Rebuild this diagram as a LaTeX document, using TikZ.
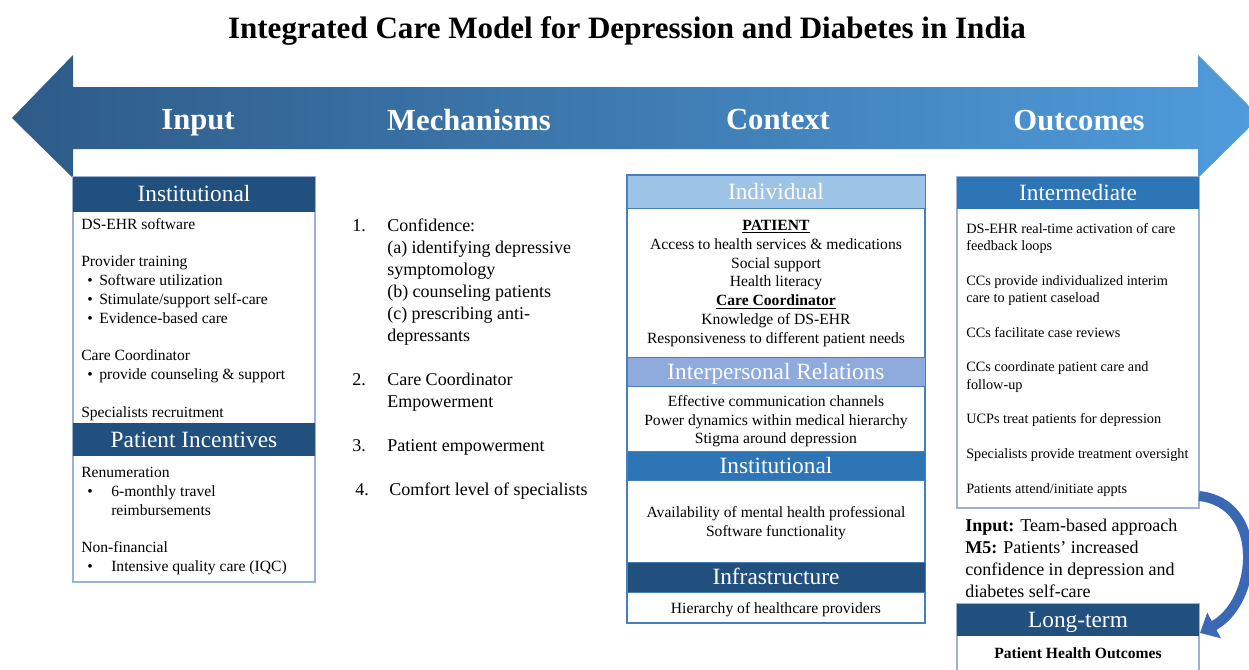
\documentclass[tikz,border=0pt]{standalone}
\usepackage{fontspec}
\setmainfont{Liberation Serif}
\usepackage{xcolor}
\usetikzlibrary{arrows.meta}

\definecolor{arrowL}{HTML}{2E5B88}
\definecolor{arrowR}{HTML}{4F9CDC}
\definecolor{darkhdr}{HTML}{21507E}
\definecolor{midhdr}{HTML}{2E75B6}
\definecolor{lighthdr}{HTML}{9DC3E6}
\definecolor{relhdr}{HTML}{8FAADC}
\definecolor{paleline}{HTML}{9AB3D5}
\definecolor{ctxline}{HTML}{4A7EBB}
\definecolor{loopblue}{HTML}{3A68B4}

\newcommand{\bul}[1]{\makebox[#1][l]{\hspace{4.5pt}\textbullet}}

\tikzset{
  hdrtxt/.style={text=white, font=\fontsize{17.5}{20}\selectfont, inner sep=0pt, text height=15pt, text depth=3.5pt},
  bandtxt/.style={text=white, font=\bfseries\fontsize{23}{26}\selectfont, inner sep=0pt, text height=19.8pt, text depth=4.6pt},
  bodytxt/.style={font=\fontsize{11.7}{14.1}\selectfont, align=left, anchor=north west, inner sep=0pt},
  mechtxt/.style={font=\fontsize{13.5}{16.5}\selectfont, align=left, anchor=north west, inner sep=0pt},
  ctxtxt/.style={font=\fontsize{11.7}{14.1}\selectfont, align=center, anchor=north, inner sep=0pt},
  outtxt/.style={font=\fontsize{10.7}{13}\selectfont, align=left, anchor=north west, inner sep=0pt},
  hdrbar/.style={draw=ctxline, line width=0.6pt}
}

\begin{document}
\begin{tikzpicture}[x=0.75pt, y=-0.75pt]
  \useasboundingbox (0,0) rectangle (1249,669);

  \node[font=\bfseries\fontsize{23.3}{28}\selectfont, text height=20pt, text depth=4.7pt, inner sep=0pt] (title) at (627,28) {Integrated Care Model for Depression and Diabetes in India};

  % double arrow band
  \shade[left color=arrowL, right color=arrowR] (12,118) -- (73,55) -- (73,87) -- (1198,87) -- (1198,55) -- (1260,117) -- (1198,178) -- (1198,149) -- (73,149) -- (73,178) -- cycle;
  \node[bandtxt] (input) at (198,119) {Input};
  \node[bandtxt] (mechs) at (469,120) {Mechanisms};
  \node[bandtxt] (context) at (778,119) {Context};
  \node[bandtxt] (outcomes) at (1079,120) {Outcomes};

  % Input column
  \draw[paleline, line width=1.1pt] (73,177) rectangle (315,582);
  \fill[darkhdr] (73,177) rectangle (315,212);
  \fill[darkhdr] (73,423) rectangle (315,456);
  \node[hdrtxt] (insthdr) at (194,194) {Institutional};
  \node[hdrtxt] (inchdr) at (194,440) {Patient Incentives};
  \node[bodytxt] (instbody) at (81,218) {DS-EHR software\\[14.1pt]
    Provider training\\
    \bul{13.5pt}Software utilization\\
    \bul{13.5pt}Stimulate/support self-care\\
    \bul{13.5pt}Evidence-based care\\[14.1pt]
    Care Coordinator\\
    \bul{13.5pt}provide counseling \& support\\[14.1pt]
    Specialists recruitment};
  \node[bodytxt] (incbody) at (81,467) {Renumeration\\
    \bul{22.5pt}6-monthly travel\\
    \hspace*{22.5pt}reimbursements\\[14.1pt]
    Non-financial\\
    \bul{22.5pt}Intensive quality care (IQC)};

  % Mechanisms column
  \node[mechtxt] (mechlist) at (352,219) {\makebox[26.25pt][l]{1.}Confidence:\\
    \hspace*{26.25pt}(a) identifying depressive\\
    \hspace*{26.25pt}symptomology\\
    \hspace*{26.25pt}(b) counseling patients\\
    \hspace*{26.25pt}(c) prescribing anti-\\
    \hspace*{26.25pt}depressants\\[16.5pt]
    \makebox[26.25pt][l]{2.}Care Coordinator\\
    \hspace*{26.25pt}Empowerment\\[16.5pt]
    \makebox[26.25pt][l]{3.}Patient empowerment\\[16.5pt]
    \hspace*{2.25pt}\makebox[25.5pt][l]{4.}Comfort level of specialists};

  % Context column
  \draw[ctxline, line width=1.1pt] (627,175) rectangle (925,623);
  \fill[lighthdr, hdrbar] (627,175) rectangle (925,208);
  \fill[relhdr, hdrbar] (627,357) rectangle (925,386);
  \fill[midhdr, hdrbar] (627,451) rectangle (925,480);
  \fill[darkhdr, hdrbar] (627,562) rectangle (925,592);
  \node[hdrtxt] (indivhdr) at (776,192) {Individual};
  \node[hdrtxt] (relhdr) at (776,372) {Interpersonal Relations};
  \node[hdrtxt] (ctxinsthdr) at (776,466) {Institutional};
  \node[hdrtxt] (infrahdr) at (776,577) {Infrastructure};
  \node[ctxtxt] (indivbody) at (776,220) {\underline{\textbf{PATIENT}}\\
    Access to health services \& medications\\
    Social support\\
    Health literacy\\
    \underline{\textbf{Care Coordinator}}\\
    Knowledge of DS-EHR\\
    Responsiveness to different patient needs};
  \node[ctxtxt] (relbody) at (776,395) {Effective communication channels\\
    Power dynamics within medical hierarchy\\
    Stigma around depression};
  \node[ctxtxt] (ctxinstbody) at (776,506) {Availability of mental health professional\\
    Software functionality};
  \node[ctxtxt] (infrabody) at (776,602) {Hierarchy of healthcare providers};

  % Outcomes column
  \draw[paleline, line width=1.1pt] (957,177) rectangle (1199,508);
  \fill[midhdr] (957,177) rectangle (1199,209);
  \node[hdrtxt] (interhdr) at (1078,193) {Intermediate};
  \node[outtxt] (interbody) at (966,223) {DS-EHR real-time activation of care\\
    feedback loops\\[13pt]
    CCs provide individualized interim\\
    care to patient caseload\\[13pt]
    CCs facilitate case reviews\\[13pt]
    CCs coordinate patient care and\\
    follow-up\\[13pt]
    UCPs treat patients for depression\\[13pt]
    Specialists provide treatment oversight\\[13pt]
    Patients attend/initiate appts};
  \node[mechtxt] (m5note) at (965,519) {\textbf{Input:} Team-based approach\\
    \textbf{M5:} Patients’ increased\\
    confidence in depression and\\
    diabetes self-care};
  \draw[paleline, line width=1.1pt] (957,604) rectangle (1199,680);
  \fill[darkhdr] (957,604) rectangle (1199,636);
  \node[hdrtxt] (longhdr) at (1078,620) {Long-term};
  \node[font=\bfseries\fontsize{11.7}{14}\selectfont, inner sep=0pt] (longbody) at (1078,653) {Patient Health Outcomes};

  % loop back arrow
  \coordinate (loopstart) at (1199,496);
  \coordinate (loopend) at (1200,633);
  \draw[loopblue, line width=7.5pt, -{Triangle[width=21pt,length=12pt]}] (loopstart) .. controls (1266,503) and (1258,602) .. (loopend);
\end{tikzpicture}
\end{document}
